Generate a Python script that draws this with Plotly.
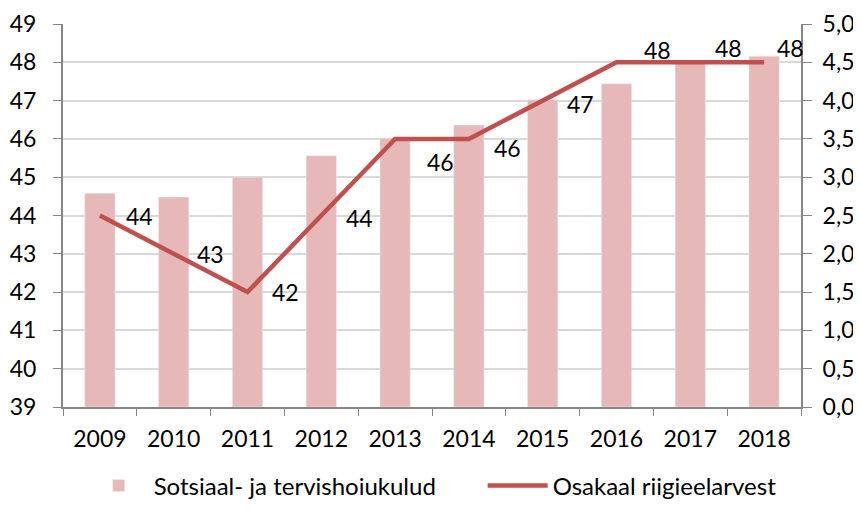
import plotly.graph_objects as go

years = ["2009", "2010", "2011", "2012", "2013", "2014", "2015", "2016", "2017", "2018"]
kulud = [2.79, 2.74, 3.00, 3.28, 3.51, 3.68, 4.01, 4.22, 4.49, 4.58]
osakaal = [44, 43, 42, 44, 46, 46, 47, 48, 48, 48]
osakaal_labels = ["44", "43", "42", "44", "46", "46", "47", "48", "48", "48"]

# label offsets (px) like the hand-placed Excel labels
lab_dx = [24, 21, 22, 23, 30, 23, 22, 25, 23, 11]
lab_dy = [0, 0, 0, -2, -23, -9, -3, 12, 14, 14]

FONT = "Lato"
BAR = "#E6B9B8"
LINE = "#C0504D"
AXIS = "#868686"
GRID = "#D9D9D9"

fig = go.Figure()
fig.add_trace(go.Bar(
    x=years, y=kulud, name="Sotsiaal- ja tervishoiukulud",
    marker=dict(color=BAR), width=0.41, yaxis="y", hoverinfo="skip",
    legendwidth=324,
))
fig.add_trace(go.Scatter(
    x=years, y=osakaal, name="Osakaal riigieelarvest", mode="lines",
    line=dict(color=LINE, width=4.5), yaxis="y2", hoverinfo="skip",
))

# category axis: place labels by category index
for i, (v, t, dx, dy) in enumerate(zip(osakaal, osakaal_labels, lab_dx, lab_dy)):
    fig.add_annotation(
        x=i, y=v, xref="x", yref="y2", text=t, showarrow=False,
        xanchor="left", yanchor="middle", xshift=dx, yshift=dy,
        font=dict(family=FONT, size=23, color="#000000"),
    )

# page body has an 8px margin; keep the figure inside the window
fig.update_layout(
    width=853, height=493,
    margin=dict(l=55, r=60, t=16, b=94, autoexpand=False),
    paper_bgcolor="white", plot_bgcolor="white",
    separators=",.",
    font=dict(family=FONT, size=23, color="#000000"),
    showlegend=True,
    legend=dict(
        orientation="h", x=0.028, xanchor="left", y=-0.206, yanchor="middle",
        font=dict(family=FONT, size=24, color="#000000"),
        itemwidth=60, tracegroupgap=0,
    ),
    xaxis=dict(
        type="category", range=[-0.5, 9.5], tickson="boundaries",
        ticks="outside", ticklen=7, tickangle=0, automargin=False,
        tickcolor=AXIS, showline=True, linecolor=AXIS, linewidth=2,
        showgrid=False, ticklabelstandoff=10,
    ),
    yaxis=dict(
        side="right", range=[0, 5], dtick=0.5, tickformat=".1f",
        ticks="outside", ticklen=9, tickcolor=AXIS, showline=True,
        linecolor=AXIS, linewidth=2, showgrid=True, gridcolor=GRID,
        gridwidth=1.5, zeroline=False, ticklabelstandoff=6,
        automargin=False,
    ),
    yaxis2=dict(
        side="left", overlaying="y", range=[39, 49], dtick=1,
        ticks="outside", ticklen=8, tickcolor=AXIS, showline=True,
        linecolor=AXIS, linewidth=2, showgrid=False, zeroline=False,
        ticklabelstandoff=12, automargin=False,
    ),
)

fig.write_html("out.html")
